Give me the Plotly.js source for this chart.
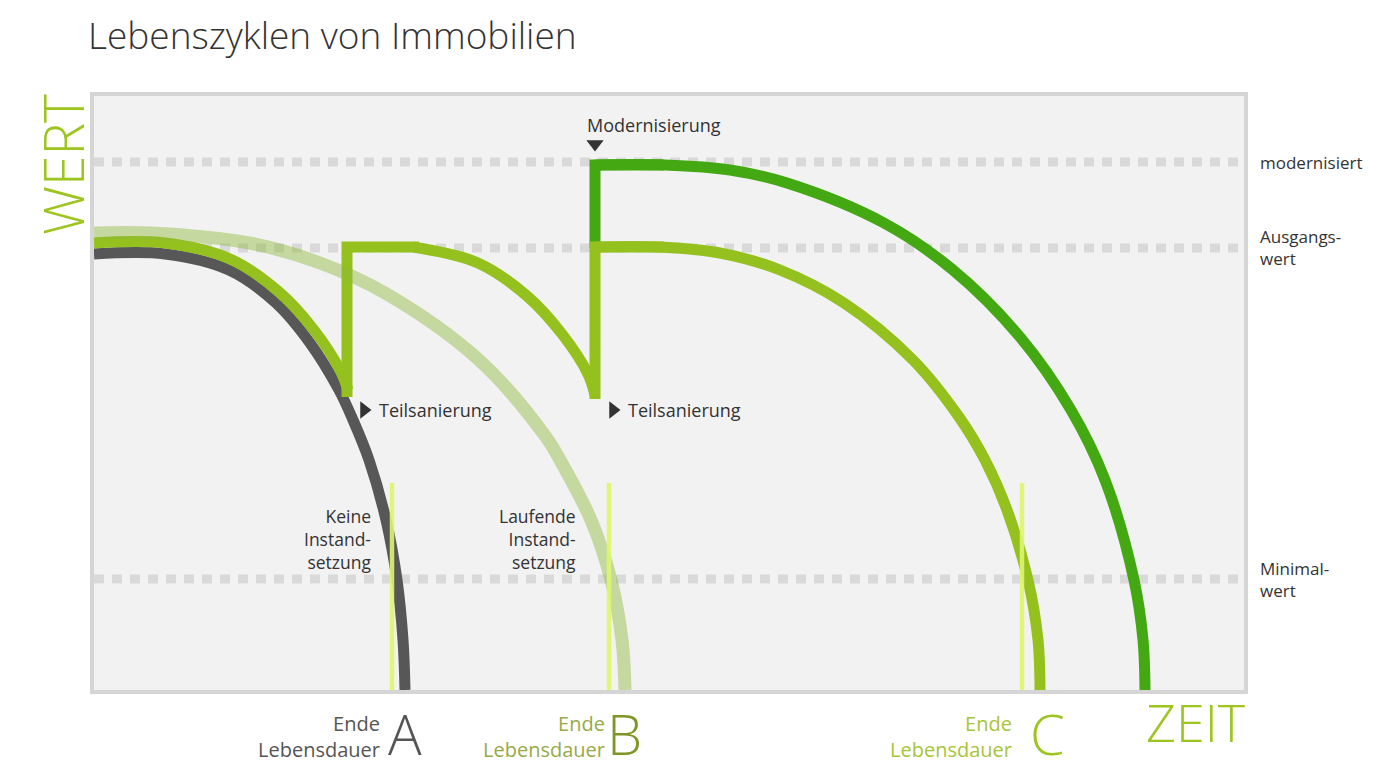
<!DOCTYPE html>
<html>
<head>
<meta charset="utf-8">
<script src="https://cdn.plot.ly/plotly-3.0.1.min.js"></script>
<style>html,body{margin:0;padding:0;background:#fff;}#chart{width:1388px;height:777px;}</style>
</head>
<body>
<div id="chart"></div>
<script>
// Reference levels (value axis)
const levelNames = ["modernisiert", "Ausgangs-<br>wert", "Minimal-<br>wert"];
const levelValues = [528, 442, 111];

// A: Keine Instandsetzung (grey)
const keineX = [0, 71, 135, 182, 216, 245, 259, 275, 292, 303, 309, 311];
const keineY = [436, 436, 420, 387, 347, 300, 270, 230, 170, 110, 50, 0];

// B: Laufende Instandsetzung (faded)
const laufendX = [0, 56, 155, 226, 291, 385, 452, 466, 497, 517, 528, 531];
const laufendY = [457, 457, 447, 427, 397, 330, 253, 230, 170, 110, 50, 0];

// C: Teilsanierungen (light green) – three phases and two jumps
const teil1X = [0, 71, 136, 185, 220, 246, 254];
const teil1Y = [447, 447, 431, 398, 360, 320, 300];
const jump1X = [253, 253, 325];
const jump1Y = [293, 443, 443];
const teil2X = [319, 384, 433, 468, 494, 501];
const teil2Y = [443, 427, 394, 356, 316, 295];
const jump2X = [501, 501, 570];
const jump2Y = [291, 443, 443];
const teil3X = [501, 565, 626, 686, 750, 819, 865, 891, 913, 934, 944, 946];
const teil3Y = [443, 443, 437, 420, 387, 330, 273, 230, 180, 110, 50, 0];

// Modernisierung (dark green)
const modJumpX = [501, 501, 570];
const modJumpY = [442, 525, 525];
const modX = [501, 571, 636, 693, 790, 859, 926, 977, 1011, 1040, 1049, 1051];
const modY = [525, 525, 520, 507, 467, 420, 353, 280, 210, 110, 50, 0];

// Event pointers (Modernisierung, Teilsanierung, Teilsanierung)
const eventX = [501, 270, 519];
const eventY = [546, 280, 280];
const eventSymbols = ["triangle-down", "triangle-right", "triangle-right"];

// Ende Lebensdauer markers
const endLabels = ["A", "B", "C"];
const endX = [298, 515, 928];
const endTop = 207;

const GREY = "#575757", LIGHT = "#95c11f", DARK = "#43a812";
const FADED = "rgba(140,185,60,0.45)", MARK = "rgba(222,246,110,0.9)";
const FONT = "Open Sans, Lato, sans-serif";
const W = 1150, H = 594;

const traces = [];
levelValues.forEach(v => traces.push({
  x: [0, W], y: [v, v], mode: "lines", hoverinfo: "skip",
  line: {color: "#d9d9d9", width: 9, dash: "10px,8px"}
}));
function add(x, y, color, width, shape) {
  traces.push({x: x, y: y, mode: "lines", hoverinfo: "skip",
    line: {color: color, width: width, shape: shape || "linear", smoothing: 1, simplify: false}});
}
add(keineX, keineY, GREY, 11, "spline");
add(modJumpX, modJumpY, DARK, 11);
add(modX, modY, DARK, 11, "spline");
add(teil1X, teil1Y, LIGHT, 11, "spline");
add(jump1X, jump1Y, LIGHT, 11);
add(teil2X, teil2Y, LIGHT, 11, "spline");
add(jump2X, jump2Y, LIGHT, 11);
add(teil3X, teil3Y, LIGHT, 11, "spline");
add(laufendX, laufendY, FADED, 13, "spline");
endX.forEach(x => add([x, x], [0, endTop], MARK, 4.5));
traces.push({x: eventX, y: eventY, mode: "markers", hoverinfo: "skip", cliponaxis: false,
  marker: {symbol: eventSymbols, size: 15, color: "#333333", line: {width: 0}}});

const ann = [];
// positions given in axis units, converted to paper so labels outside the plot are kept
function txt(x, y, text, size, color, xa, extra) {
  ann.push(Object.assign({x: x / W, y: y / H, xref: "paper", yref: "paper", text: text, showarrow: false,
    xanchor: xa || "left", yanchor: "middle", align: xa === "right" ? "right" : (xa === "center" ? "center" : "left"),
    borderpad: 0, font: {family: FONT, size: size, color: color}}, extra || {}));
}
// right level labels
txt(1165, levelValues[0], levelNames[0], 17, "#333");
txt(1165, levelValues[1], levelNames[1], 17, "#333");
txt(1165, levelValues[2], levelNames[2], 17, "#333");
// event labels
txt(492, 565, "Modernisierung", 18, "#333");
txt(284, 280, "Teilsanierung", 18, "#333");
txt(533, 280, "Teilsanierung", 18, "#333");
txt(278, 151, "Keine<br>Instand-<br>setzung", 17.5, "#333", "right");
txt(483, 151, "Laufende<br>Instand-<br>setzung", 17.5, "#333", "right");
// bottom end labels
const endTextColors = ["#555555", "#98aa48", "#a8c43a"];
const endLetterColors = ["#555555", "#7f9629", "#9dc41f"];
const endTextRight = [287, 512, 919];
const endLetterX = [311, 530, 953];
endLabels.forEach((l, i) => {
  txt(endTextRight[i], -46, "Ende<br>Lebensdauer", 20, endTextColors[i], "right");
  txt(endLetterX[i], -43, l, 56, endLetterColors[i], "center", {font: {family: FONT, size: 56, color: endLetterColors[i], weight: 300}});
});
txt(1152, -31, "ZEIT", 52, "#9dc41f", "right", {font: {family: FONT, size: 52, color: "#9dc41f", weight: 300}});
txt(-32, 525, "WERT", 55, "#9dc41f", "center", {textangle: -90, font: {family: FONT, size: 55, color: "#9dc41f", weight: 300}});

const layout = {
  width: 1388, height: 777,
  margin: {l: 94, r: 144, t: 96, b: 87},
  paper_bgcolor: "#ffffff", plot_bgcolor: "#f2f2f2",
  showlegend: false,
  title: {text: "Lebenszyklen von Immobilien", xref: "container", yref: "container",
    x: 88 / 1388, y: 1 - 36 / 777, xanchor: "left", yanchor: "middle",
    font: {family: FONT, size: 37, color: "#333", weight: 300}},
  xaxis: {range: [0, W], showgrid: false, zeroline: false, showticklabels: false, ticks: "",
    showline: true, mirror: true, linecolor: "#d5d5d5", linewidth: 4, fixedrange: true},
  yaxis: {range: [0, H], showgrid: false, zeroline: false, showticklabels: false, ticks: "",
    showline: true, mirror: true, linecolor: "#d5d5d5", linewidth: 4, fixedrange: true},
  annotations: ann
};
Plotly.newPlot("chart", traces, layout, {displayModeBar: false, staticPlot: true});
</script>
</body>
</html>
